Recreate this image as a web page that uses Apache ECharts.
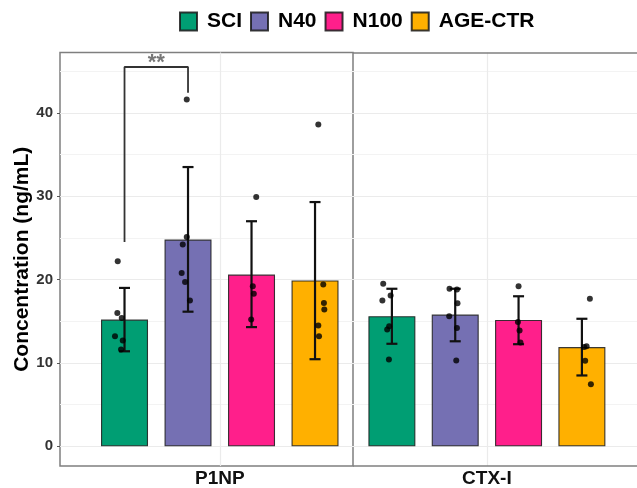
<!DOCTYPE html>
<html><head><meta charset="utf-8">
<script src="https://cdn.jsdelivr.net/npm/echarts@6/dist/echarts.min.js"></script>
<style>html,body{margin:0;padding:0;background:#fff}#c{width:637px;height:488px}</style>
</head><body><div id="c"></div>
<script>
const groups = ['SCI', 'N40', 'N100', 'AGE-CTR'];
const colors = ['#009E73', '#7570B3', '#FF1F8B', '#FFB000'];
const panels = ['P1NP', 'CTX-I'];
const means   = [[15.2, 24.8, 20.6, 19.9], [15.6, 15.8, 15.15, 11.9]];
const errLow  = [[11.4, 16.15, 14.3, 10.45], [12.3, 12.6, 12.25, 8.5]];
const errHigh = [[19.0, 33.5, 27.0, 29.3], [18.9, 18.9, 18.0, 15.3]];
// individual points per panel / group: [jitter offset, value]
const pointsP1NP = [
  [[-0.107, 22.2], [-0.113, 16.0], [-0.044, 15.4], [-0.15, 13.2], [-0.028, 12.7], [-0.055, 11.6]],
  [[-0.02, 41.6], [-0.02, 25.1], [-0.083, 24.2], [-0.1, 20.8], [-0.047, 19.7], [0.03, 17.5]],
  [[0.074, 29.9], [0.02, 19.2], [0.036, 18.3], [-0.005, 15.2]],
  [[0.052, 38.6], [0.13, 19.4], [0.14, 17.2], [0.146, 16.4], [0.052, 14.5], [0.063, 13.2]]
];
const pointsCTX = [
  [[-0.137, 19.5], [-0.02, 18.1], [-0.15, 17.5], [-0.043, 14.4], [-0.074, 14.0], [-0.047, 10.4]],
  [[-0.09, 18.9], [0.027, 18.8], [0.036, 17.15], [-0.095, 15.6], [0.027, 14.2], [0.016, 10.3]],
  [[0, 19.2], [-0.01, 14.9], [0.016, 13.9], [0.03, 12.45]],
  [[0.126, 17.7], [0.074, 12.0], [0.036, 11.9], [0.052, 10.25], [0.142, 7.45]]
];
const points = [pointsP1NP, pointsCTX];
// significance bracket (P1NP: SCI vs N40)
const bracket = { from: 0, to: 1, yLeft: 24.5, yTop: 45.5, yRight: 42.4, label: '**' };
const majorTicks = [0, 10, 20, 30, 40];
const minorTicks = [5, 15, 25, 35, 45];
const yMin = -2.36, yMax = 47.24;
const xMin = [-0.016, 0.386], xMax = [4.598, 4.87];
const panelCenter = 2.5;

const FONT = 'Liberation Sans';
const BORDER = '#7f7f7f';
const chart = echarts.init(document.getElementById('c'), null, { renderer: 'canvas' });

const grids = [
  { left: 60, top: 52.5, width: 293, bottom: 21, show: true, borderColor: BORDER, borderWidth: 1.5 },
  { left: 353, top: 52.5, right: 0, bottom: 21, show: false }
].map(g => Object.assign(g, { backgroundColor: 'transparent', containLabel: false }));

const xAxes = panels.map((name, p) => ({
  type: 'value', gridIndex: p, min: xMin[p], max: xMax[p],
  splitLine: { show: false }, axisLine: { show: false },
  axisTick: { show: true, customValues: [panelCenter], length: 3, lineStyle: { color: '#555' } },
  axisLabel: { show: true, customValues: [panelCenter], formatter: () => name, margin: 3,
    fontSize: 19, fontWeight: 'bold', color: '#111', fontFamily: FONT }
}));
const yAxes = panels.map((name, p) => ({
  type: 'value', gridIndex: p, min: yMin, max: yMax,
  splitLine: { show: false }, axisLine: { show: false },
  axisTick: { show: p === 0, customValues: majorTicks, length: 4, lineStyle: { color: '#555' } },
  axisLabel: { show: p === 0, customValues: majorTicks, margin: 7, fontSize: 15, fontWeight: 'bold', color: '#333', fontFamily: FONT },
  name: p === 0 ? 'Concentration (ng/mL)' : '', nameLocation: 'middle', nameGap: 26,
  nameTextStyle: { fontSize: 21, fontWeight: 'bold', color: '#000', fontFamily: FONT }
}));

const series = [];
panels.forEach((name, p) => {
  const gridData = [
    ...majorTicks.map(v => ({ yAxis: v, lineStyle: { color: '#ebebeb', width: 1.2, type: 'solid' } })),
    ...minorTicks.map(v => ({ yAxis: v, lineStyle: { color: '#f3f3f3', width: 1, type: 'solid' } })),
    { xAxis: panelCenter, lineStyle: { color: '#ebebeb', width: 1.2, type: 'solid' } }
  ];
  if (p === 1) {
    // panel frame (top and bottom) for the right panel, which runs off the picture edge
    gridData.push({ yAxis: yMax, lineStyle: { color: BORDER, width: 1.5, type: 'solid' } });
    gridData.push({ yAxis: yMin, lineStyle: { color: BORDER, width: 1.5, type: 'solid' } });
  }
  series.push({
    type: 'line', name: 'grid' + p, xAxisIndex: p, yAxisIndex: p, data: [], z: 1, silent: true,
    markLine: { z: 1, silent: true, symbol: ['none', 'none'], label: { show: false }, animation: false, data: gridData }
  });
  groups.forEach((g, gi) => {
    series.push({
      type: 'bar', name: g, xAxisIndex: p, yAxisIndex: p, barWidth: 47, barGap: '-100%', z: 2,
      data: [[gi + 1, means[p][gi]]],
      itemStyle: { color: colors[gi], borderColor: 'rgba(25,25,25,0.85)', borderWidth: 1.1 }
    });
  });
  series.push({
    type: 'custom', name: 'err' + p, xAxisIndex: p, yAxisIndex: p, z: 3,
    encode: { x: 0, y: [1, 2] },
    data: groups.map((g, gi) => [gi + 1, errLow[p][gi], errHigh[p][gi]]),
    renderItem(params, api) {
      const x = api.value(0);
      const a = api.coord([x, api.value(1)]), b = api.coord([x, api.value(2)]);
      const c = 5.5, st = { stroke: '#111', lineWidth: 2.2 };
      return { type: 'group', children: [
        { type: 'line', shape: { x1: a[0], y1: a[1], x2: b[0], y2: b[1] }, style: st },
        { type: 'line', shape: { x1: a[0] - c, y1: a[1], x2: a[0] + c, y2: a[1] }, style: st },
        { type: 'line', shape: { x1: b[0] - c, y1: b[1], x2: b[0] + c, y2: b[1] }, style: st }
      ] };
    }
  });
  const pts = [];
  points[p].forEach((arr, gi) => arr.forEach(d => pts.push([gi + 1 + d[0], d[1]])));
  series.push({
    type: 'scatter', name: 'pts' + p, xAxisIndex: p, yAxisIndex: p, z: 4,
    symbol: 'circle', symbolSize: 6, itemStyle: { color: '#000' }, data: pts
  });
});
// bracket
series.push({
  type: 'line', name: 'bracket', xAxisIndex: 0, yAxisIndex: 0, z: 4, symbol: 'none',
  lineStyle: { color: '#333', width: 1.8 },
  data: [[bracket.from + 1, bracket.yLeft], [bracket.from + 1, bracket.yTop],
         [bracket.to + 1, bracket.yTop], [bracket.to + 1, bracket.yRight]]
});
series.push({
  type: 'scatter', name: 'sig', xAxisIndex: 0, yAxisIndex: 0, z: 5, symbolSize: 2,
  itemStyle: { color: 'rgba(0,0,0,0)' },
  data: [[(bracket.from + bracket.to) / 2 + 1, bracket.yTop]],
  label: { show: true, formatter: bracket.label, position: 'top', distance: -8,
    fontSize: 22, fontWeight: 'bold', color: '#555', fontFamily: FONT }
});

chart.setOption({
  animation: false,
  backgroundColor: '#fff',
  legend: {
    data: groups, left: 179, top: 11, padding: 0, itemWidth: 17, itemHeight: 18, itemGap: 8, icon: 'rect',
    selectedMode: false,
    textStyle: { fontSize: 21, fontWeight: 'bold', color: '#000', fontFamily: FONT, padding: [0, 0, 0, 5] }
  },
  grid: grids, xAxis: xAxes, yAxis: yAxes, series
});
</script></body></html>
